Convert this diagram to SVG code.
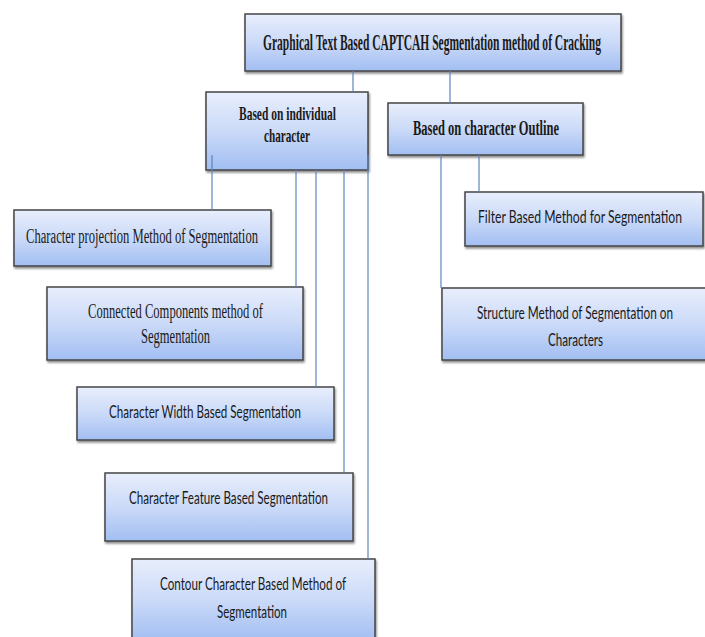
<svg xmlns="http://www.w3.org/2000/svg" width="705" height="637" viewBox="0 0 705 637">
<defs>
<linearGradient id="g" x1="0" y1="0" x2="0" y2="1">
<stop offset="0" stop-color="#e8eefc"/>
<stop offset="0.5" stop-color="#cbdaf8"/>
<stop offset="1" stop-color="#a2bef2"/>
</linearGradient>
<filter id="sh" x="-5%" y="-10%" width="110%" height="130%">
<feDropShadow dx="1" dy="2" stdDeviation="1.2" flood-color="#000" flood-opacity="0.45"/>
</filter>
</defs>
<style>
.box{fill:url(#g);stroke:#454545;stroke-width:1.5;filter:url(#sh)}
.c{stroke:#5b84c0;stroke-width:1.2;fill:none}
.tb{font-family:"Liberation Serif","Times New Roman",serif;font-weight:bold;fill:#1a1a1a}
.tr{font-family:"Liberation Serif","Times New Roman",serif;fill:#1a1a1a}
.ts{font-family:Lato,"Liberation Sans",sans-serif;fill:#1a1a1a}
</style>
<rect width="705" height="637" fill="#fff"/>
<g id="nodes">
<g id="n-root"><rect class="box" x="245" y="14" width="376" height="57"/>
<text class="tb" x="263" y="50" font-size="23" textLength="338" lengthAdjust="spacingAndGlyphs">Graphical Text Based CAPTCAH Segmentation method of Cracking</text></g>
<g id="n-individual"><rect class="box" x="206" y="92" width="162" height="78"/>
<text class="tb" x="239" y="120" font-size="19" textLength="97" lengthAdjust="spacingAndGlyphs">Based on individual</text>
<text class="tb" x="264" y="142" font-size="19" textLength="46" lengthAdjust="spacingAndGlyphs">character</text></g>
<g id="n-outline"><rect class="box" x="388" y="103" width="195" height="52"/>
<text class="tb" x="413" y="135" font-size="20" textLength="146" lengthAdjust="spacingAndGlyphs">Based on character Outline</text></g>
<g id="n-projection"><rect class="box" x="14" y="210" width="257" height="56"/>
<text class="tr" x="26" y="243" font-size="20" textLength="232" lengthAdjust="spacingAndGlyphs">Character projection Method of Segmentation</text></g>
<g id="n-connected"><rect class="box" x="47" y="287" width="256" height="73"/>
<text class="tr" x="88" y="318" font-size="20" textLength="175" lengthAdjust="spacingAndGlyphs">Connected Components method of</text>
<text class="tr" x="141" y="343" font-size="20" textLength="69" lengthAdjust="spacingAndGlyphs">Segmentation</text></g>
<g id="n-width"><rect class="box" x="77" y="387" width="257" height="53"/>
<text class="ts" x="109" y="418" font-size="17" textLength="192" lengthAdjust="spacingAndGlyphs">Character Width Based Segmentation</text></g>
<g id="n-feature"><rect class="box" x="105" y="473" width="248" height="68"/>
<text class="ts" x="129" y="504" font-size="17" textLength="199" lengthAdjust="spacingAndGlyphs">Character Feature Based Segmentation</text></g>
<g id="n-contour"><rect class="box" x="132" y="559" width="243" height="82"/>
<text class="ts" x="160" y="590" font-size="17" textLength="186" lengthAdjust="spacingAndGlyphs">Contour Character Based Method of</text>
<text class="ts" x="217" y="618" font-size="17" textLength="70" lengthAdjust="spacingAndGlyphs">Segmentation</text></g>
<g id="n-filter"><rect class="box" x="465" y="192" width="238" height="54"/>
<text class="ts" x="478" y="223" font-size="17" textLength="204" lengthAdjust="spacingAndGlyphs">Filter Based Method for Segmentation</text></g>
<g id="n-structure"><rect class="box" x="442" y="288" width="264" height="72"/>
<text class="ts" x="477" y="319" font-size="17" textLength="196" lengthAdjust="spacingAndGlyphs">Structure Method of Segmentation on</text>
<text class="ts" x="548" y="346" font-size="17" textLength="55" lengthAdjust="spacingAndGlyphs">Characters</text></g>
</g>
<g id="connectors">
<line class="c" x1="353" y1="71" x2="353" y2="92"/>
<line class="c" x1="450" y1="71" x2="450" y2="103"/>
<line class="c" x1="212" y1="155" x2="212" y2="210"/>
<line class="c" x1="296" y1="170" x2="296" y2="287"/>
<line class="c" x1="316" y1="170" x2="316" y2="387"/>
<line class="c" x1="344" y1="170" x2="344" y2="473"/>
<line class="c" x1="368" y1="155" x2="368" y2="559"/>
<line class="c" x1="441" y1="155" x2="441" y2="288"/>
<line class="c" x1="479" y1="155" x2="479" y2="192"/>
</g>
</svg>
